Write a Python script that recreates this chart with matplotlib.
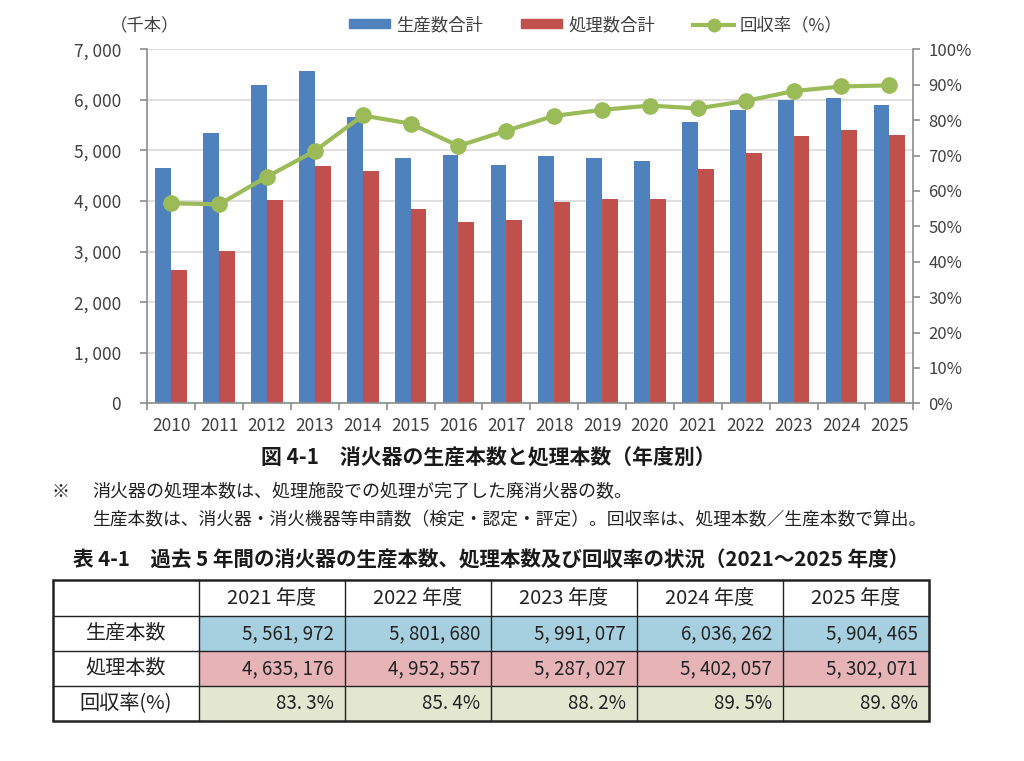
import matplotlib.pyplot as plt
from matplotlib.patches import Patch, Rectangle
from matplotlib.lines import Line2D

plt.rcParams['font.family'] = ['Noto Sans CJK JP', 'DejaVu Sans']

# データ（グラフ）
years = list(range(2010, 2026))
production = [4660, 5350, 6290, 6580, 5660, 4860, 4910, 4710, 4900, 4850, 4790,
              5562, 5802, 5991, 6036, 5904]
processed = [2640, 3020, 4020, 4700, 4600, 3850, 3580, 3630, 3980, 4030, 4030,
             4635, 4953, 5287, 5402, 5302]
rate = [56.5, 56.2, 64.0, 71.3, 81.3, 79.0, 72.7, 77.0, 81.2, 82.9, 84.1,
        83.3, 85.4, 88.2, 89.5, 89.8]

# データ（表）
tbl_years = ["2021 年度", "2022 年度", "2023 年度", "2024 年度", "2025 年度"]
tbl_rows = ["生産本数", "処理本数", "回収率(%)"]
tbl_prod = [5561972, 5801680, 5991077, 6036262, 5904465]
tbl_proc = [4635176, 4952557, 5287027, 5402057, 5302071]
tbl_rate = [83.3, 85.4, 88.2, 89.5, 89.8]

BLUE = "#4f81bd"
RED = "#c0504d"
GREEN = "#9bbb59"
TXT = "#404040"
AXC = "#8c8c8c"

W, H = 1024, 761
fig = plt.figure(figsize=(W / 100, H / 100), dpi=100)

def fx(px):
    return px / W

def fy(py):
    return 1 - py / H

ax = fig.add_axes([fx(147.3), fy(403.3), fx(913.3) - fx(147.3), fy(49.3) - fy(403.3)])
x = list(range(len(years)))
bw = 0.33
ax.bar([i - bw / 2 for i in x], production, bw, color=BLUE, zorder=2)
ax.bar([i + bw / 2 for i in x], processed, bw, color=RED, zorder=2)
ax.set_xlim(-0.5, len(years) - 0.5)
ax.set_ylim(0, 7000)
ax.set_yticks(range(0, 7001, 1000))
ax.set_yticklabels([f"{v:,}".replace(",", ", ") for v in range(0, 7001, 1000)])
ax.yaxis.grid(True, color="#d9d9d9", lw=1.2, zorder=0)
ax.set_axisbelow(True)
ax.set_xticks(x)
ax.set_xticklabels([str(y) for y in years])
ax.set_xticks([i - 0.5 for i in range(len(years) + 1)], minor=True)
ax.tick_params(axis="x", which="major", length=0, pad=10, labelsize=12.5, labelcolor=TXT)
ax.tick_params(axis="x", which="minor", length=5, color=AXC, width=1.2)
ax.tick_params(axis="y", length=5, color=AXC, width=1.2, labelsize=12.5, labelcolor=TXT, pad=14)
for s in ["top", "right"]:
    ax.spines[s].set_visible(False)
for s in ["left", "bottom"]:
    ax.spines[s].set_color(AXC)
    ax.spines[s].set_linewidth(1.2)

ax2 = ax.twinx()
ax2.plot(x, rate, color=GREEN, lw=3, marker="o", ms=11, zorder=3)
ax2.set_ylim(0, 100)
ax2.set_yticks(range(0, 101, 10))
ax2.set_yticklabels([f"{v}%" for v in range(0, 101, 10)])
ax2.tick_params(axis="y", length=5, color=AXC, width=1.2, labelsize=12, labelcolor=TXT, pad=6)
for s in ["top", "left", "bottom"]:
    ax2.spines[s].set_visible(False)
ax2.spines["right"].set_color(AXC)
ax2.spines["right"].set_linewidth(1.2)

fig.text(fx(110), fy(25), "（千本）", fontsize=12.5, color=TXT, va="center")

handles = [Patch(color=BLUE), Patch(color=RED),
           Line2D([], [], color=GREEN, lw=3, marker="o", ms=9)]
fig.legend(handles, ["生産数合計", "処理数合計", "回収率（%）"], loc="center",
           bbox_to_anchor=(fx(596), fy(25)), ncol=3, frameon=False, fontsize=12.5,
           handlelength=2.35, handleheight=0.45, handletextpad=0.35,
           columnspacing=2.2, labelcolor=TXT)

# キャプションと注記
fig.text(fx(488), fy(458), "図 4-1　消火器の生産本数と処理本数（年度別）",
         fontsize=15, fontweight="bold", ha="center", va="center", color="#1a1a1a")
fig.text(fx(52), fy(492), "※", fontsize=13, va="center", color="#222222")
fig.text(fx(92), fy(492), "消火器の処理本数は、処理施設での処理が完了した廃消火器の数。",
         fontsize=13, va="center", color="#222222")
fig.text(fx(92), fy(520),
         "生産本数は、消火器・消火機器等申請数（検定・認定・評定）。回収率は、処理本数／生産本数で算出。",
         fontsize=12.8, va="center", color="#222222")
fig.text(fx(73), fy(560),
         "表 4-1　過去 5 年間の消火器の生産本数、処理本数及び回収率の状況（2021～2025 年度）",
         fontsize=14.8, fontweight="bold", va="center", color="#1a1a1a")

# 表
tax = fig.add_axes([0, 0, 1, 1])
tax.set_xlim(0, W)
tax.set_ylim(H, 0)
tax.axis("off")
col_x = [53, 199, 345, 491, 637, 783, 929]
row_y = [580, 616, 651, 686, 721]
fills = ["#a6d0e0", "#e6b3b7", "#e3e7d0"]
values = [[f"{v:,}".replace(",", ", ") for v in tbl_prod],
          [f"{v:,}".replace(",", ", ") for v in tbl_proc],
          [f"{v:.1f}".replace(".", ". ") + "%" for v in tbl_rate]]
for r in range(3):
    y0, y1 = row_y[r + 1], row_y[r + 2]
    for c in range(5):
        tax.add_patch(Rectangle((col_x[c + 1], y0), col_x[c + 2] - col_x[c + 1], y1 - y0,
                                facecolor=fills[r], edgecolor="none"))
        tax.text(col_x[c + 2] - 11, (y0 + y1) / 2, values[r][c], fontsize=13.5,
                 ha="right", va="center", color="#222222")
    tax.text((col_x[0] + col_x[1]) / 2, (y0 + y1) / 2, tbl_rows[r], fontsize=14.5,
             ha="center", va="center", color="#222222")
for c in range(5):
    tax.text((col_x[c + 1] + col_x[c + 2]) / 2, (row_y[0] + row_y[1]) / 2, tbl_years[c],
             fontsize=14.5, ha="center", va="center", color="#222222")
for yy in row_y[1:-1]:
    tax.plot([col_x[0], col_x[-1]], [yy, yy], color="#222222", lw=1)
for xx in col_x[1:-1]:
    tax.plot([xx, xx], [row_y[0], row_y[-1]], color="#222222", lw=1)
tax.add_patch(Rectangle((col_x[0], row_y[0]), col_x[-1] - col_x[0], row_y[-1] - row_y[0],
                        facecolor="none", edgecolor="#222222", lw=1.8))

fig.savefig("out.png", dpi=100)
